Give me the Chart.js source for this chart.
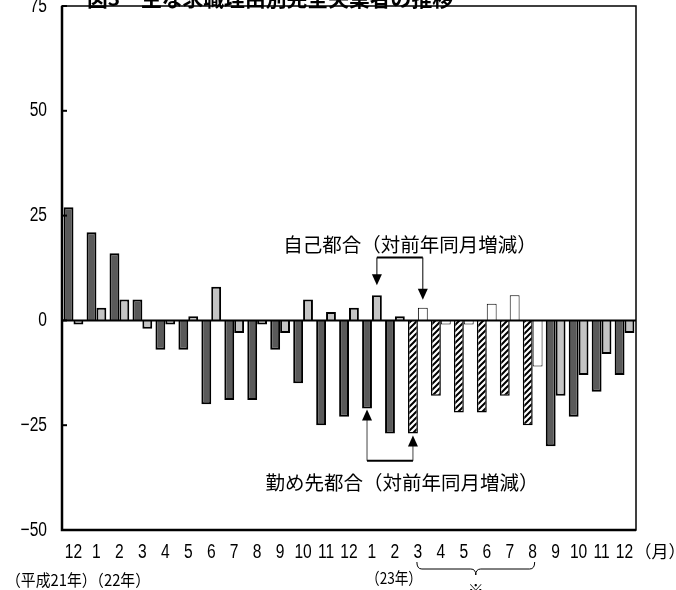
<!DOCTYPE html>
<html>
<head>
<meta charset="utf-8">
<script src="https://cdn.jsdelivr.net/npm/chart.js@4.4.1/dist/chart.umd.min.js"></script>
<style>
  body { margin: 0; background: #fff; }
  canvas { display: block; }
</style>
</head>
<body>
<canvas id="chart" width="676" height="590"></canvas>
<script>
// 主な求職理由別完全失業者の推移（対前年同月増減、万人）
const months = ['12', '1', '2', '3', '4', '5', '6', '7', '8', '9', '10', '11', '12',
                '1', '2', '3', '4', '5', '6', '7', '8', '9', '10', '11', '12'];
const tsutomesaki = [27, 21, 16, 5, -7, -7, -20, -19, -19, -7, -15, -25, -23,
                     -21, -27, -27, -18, -22, -22, -18, -25, -30, -23, -17, -13];
const jiko = [-1, 3, 5, -2, -1, 1, 8, -3, -1, -3, 5, 2, 3,
              6, 1, 3, -1, -1, 4, 6, -11, -18, -13, -8, -3];
const yTicks = [-50, -25, 0, 25, 50, 75];
// 23年3月〜8月（※）
const markFrom = 15, markTo = 20;

const numFont = '20px "Liberation Sans", sans-serif';
const jpFont = '"Noto Sans CJK JP", sans-serif';

const ctx = document.getElementById('chart').getContext('2d');

function makeHatch() {
  const p = document.createElement('canvas');
  p.width = 6; p.height = 6;
  const g = p.getContext('2d');
  g.fillStyle = '#fff';
  g.fillRect(0, 0, 6, 6);
  g.strokeStyle = '#000';
  g.lineWidth = 2;
  g.beginPath();
  g.moveTo(0, 6); g.lineTo(6, 0);
  g.moveTo(-3, 3); g.lineTo(3, -3);
  g.moveTo(3, 9); g.lineTo(9, 3);
  g.stroke();
  return ctx.createPattern(p, 'repeat');
}
const hatch = makeHatch();

const inMark = i => i >= markFrom && i <= markTo;

function arrowHead(c, x, tipY, dir) {
  // dir: 1 = 下向き, -1 = 上向き
  c.beginPath();
  c.moveTo(x, tipY);
  c.lineTo(x - 5, tipY - dir * 11);
  c.lineTo(x + 5, tipY - dir * 11);
  c.closePath();
  c.fill();
}

// 細長い数字（横方向に縮めて描く）
function narrowText(c, text, x, y, align) {
  c.save();
  c.translate(x, y);
  c.scale(0.78, 1);
  c.textAlign = align;
  c.fillText(text, 0, 0);
  c.restore();
}

const decor = {
  id: 'decor',
  afterDatasetsDraw(chart) {
    const c = chart.ctx;
    const a = chart.chartArea;
    const x = chart.scales.x, y = chart.scales.y;
    const dark = chart.getDatasetMeta(0).data;
    const light = chart.getDatasetMeta(1).data;
    c.save();
    c.strokeStyle = '#000';
    c.fillStyle = '#000';

    // 枠
    c.lineWidth = 1.5;
    c.strokeRect(a.left, a.top, a.right - a.left, a.bottom - a.top);
    c.lineWidth = 2.5;
    c.beginPath();
    c.moveTo(a.left, a.top);
    c.lineTo(a.left, a.bottom);
    c.lineTo(a.right, a.bottom);
    c.stroke();

    // 0 の線
    const y0 = y.getPixelForValue(0);
    c.lineWidth = 2;
    c.beginPath();
    c.moveTo(a.left, y0);
    c.lineTo(a.right, y0);
    c.stroke();

    // 内向きの目盛と目盛ラベル
    c.font = numFont;
    c.textBaseline = 'middle';
    yTicks.forEach(v => {
      const py = y.getPixelForValue(v);
      c.beginPath();
      c.moveTo(a.left, py);
      c.lineTo(a.left + 5, py);
      c.stroke();
      narrowText(c, v < 0 ? '−' + (-v) : String(v), a.left - 15, py, 'right');
    });
    months.forEach((m, i) => {
      narrowText(c, m, x.getPixelForValue(i), a.bottom + 22, 'center');
    });

    // 自己都合 の矢印
    const ux1 = light[13].x, ux2 = light[15].x;
    const uLine = y.getPixelForValue(15);
    const uTip1 = y.getPixelForValue(jiko[13]) - 10;
    const uTip2 = y.getPixelForValue(jiko[15]) - 8;
    c.lineWidth = 2;
    c.beginPath();
    c.moveTo(ux1, uLine); c.lineTo(ux2, uLine);
    c.stroke();
    c.lineWidth = 1;
    c.beginPath();
    c.moveTo(ux1, uLine); c.lineTo(ux1, uTip1 - 10);
    c.moveTo(ux2, uLine); c.lineTo(ux2, uTip2 - 10);
    c.stroke();
    arrowHead(c, ux1, uTip1, 1);
    arrowHead(c, ux2, uTip2, 1);

    // 勤め先都合 の矢印
    const lx1 = dark[13].x, lx2 = dark[15].x;
    const lLine = y.getPixelForValue(-33.5);
    const lTip1 = y.getPixelForValue(tsutomesaki[13]) + 1;
    const lTip2 = y.getPixelForValue(tsutomesaki[15]) + 2;
    c.strokeStyle = '#444';
    c.lineWidth = 1;
    c.beginPath();
    c.moveTo(lx1, lLine); c.lineTo(lx1, lTip1 + 10);
    c.moveTo(lx2, lLine); c.lineTo(lx2, lTip2 + 10);
    c.stroke();
    c.strokeStyle = '#000';
    c.lineWidth = 2;
    c.beginPath();
    c.moveTo(lx1, lLine); c.lineTo(lx2, lLine);
    c.stroke();
    arrowHead(c, lx1, lTip1, -1);
    arrowHead(c, lx2, lTip2, -1);

    // 注記
    c.font = '19.5px ' + jpFont;
    c.textAlign = 'center';
    c.textBaseline = 'middle';
    c.fillText('自己都合（対前年同月増減）', 410, 245, 254);
    c.fillText('勤め先都合（対前年同月増減）', 402, 483, 274);

    // 見出し（上端で切れている）
    c.font = 'bold 21px ' + jpFont;
    c.textBaseline = 'alphabetic';
    c.fillText('図3　主な求職理由別完全失業者の推移', 270, 6, 366);

    // 横軸の補助ラベル
    c.font = '17px ' + jpFont;
    c.textBaseline = 'middle';
    c.fillText('（月）', 660, 552, 52);
    c.font = '16px ' + jpFont;
    c.textAlign = 'left';
    c.fillText('（平成21年）（22年）', 6, 580, 144);
    c.fillText('（23年）', 366, 578, 56);

    // ※ の括弧
    const bx1 = x.getPixelForValue(markFrom) - 1;
    const bx2 = x.getPixelForValue(markTo) + 2;
    const mid = (bx1 + bx2) / 2;
    c.lineWidth = 1;
    c.beginPath();
    c.moveTo(bx1, 562);
    c.quadraticCurveTo(bx1, 569, bx1 + 5, 569);
    c.lineTo(mid - 5, 569);
    c.quadraticCurveTo(mid, 569, mid, 575);
    c.quadraticCurveTo(mid, 569, mid + 5, 569);
    c.lineTo(bx2 - 5, 569);
    c.quadraticCurveTo(bx2, 569, bx2, 562);
    c.stroke();
    c.textAlign = 'center';
    c.textBaseline = 'top';
    c.fillText('※', mid, 582);

    c.restore();
  }
};

new Chart(ctx, {
  type: 'bar',
  data: {
    labels: months,
    datasets: [{
      label: '勤め先都合',
      data: tsutomesaki,
      backgroundColor: tsutomesaki.map((v, i) => inMark(i) ? hatch : '#5a5a5a'),
      borderColor: '#000',
      borderWidth: tsutomesaki.map((v, i) => inMark(i) ? 1.5 : 2),
      categoryPercentage: 0.86,
      barPercentage: 1
    }, {
      label: '自己都合',
      data: jiko,
      backgroundColor: jiko.map((v, i) => inMark(i) ? '#fff' : '#c4c4c4'),
      borderColor: '#000',
      borderWidth: jiko.map((v, i) => inMark(i) ? 1 : 2),
      categoryPercentage: 0.86,
      barPercentage: 1
    }]
  },
  options: {
    responsive: false,
    animation: false,
    layout: { padding: { top: 6, right: 40, left: 0, bottom: 0 } },
    plugins: { legend: { display: false }, tooltip: { enabled: false } },
    scales: {
      x: {
        grid: { display: false, drawTicks: false },
        border: { display: false },
        ticks: { display: false },
        afterFit(s) { s.height = 60; }
      },
      y: {
        min: -50,
        max: 75,
        grid: { display: false, drawTicks: false },
        border: { display: false },
        afterBuildTicks(s) { s.ticks = yTicks.map(v => ({ value: v })); },
        ticks: { display: false },
        afterFit(s) { s.width = 62; s.paddingTop = 0; s.paddingBottom = 0; }
      }
    }
  },
  plugins: [decor]
});
</script>
</body>
</html>
